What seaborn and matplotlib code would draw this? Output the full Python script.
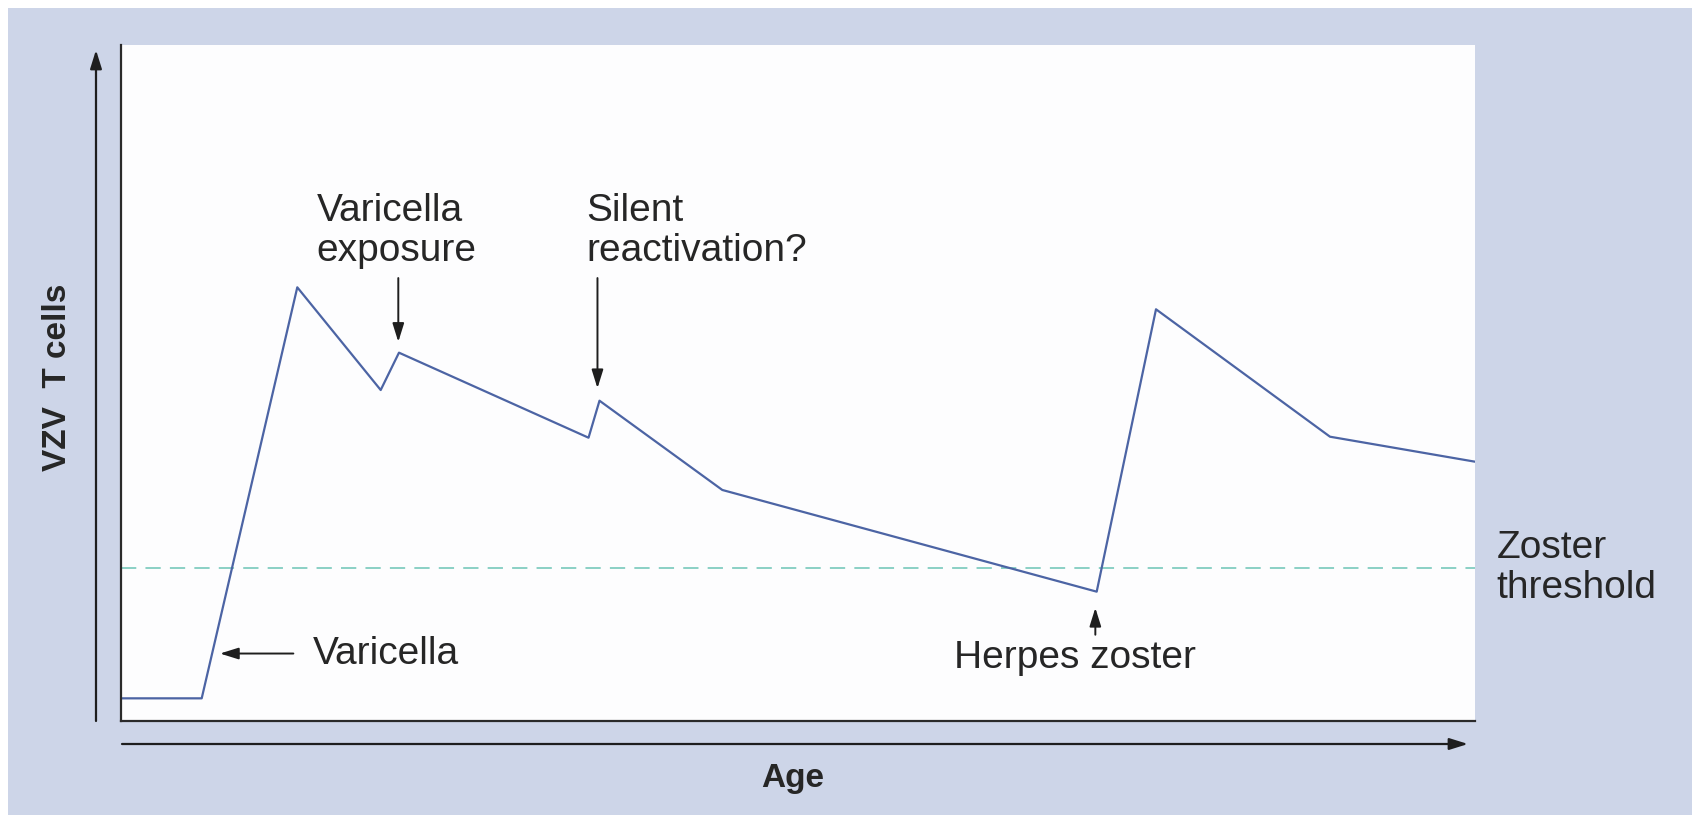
import matplotlib
matplotlib.use("Agg")
import matplotlib.pyplot as plt
from matplotlib.patches import Rectangle, FancyArrowPatch
import seaborn as sns
import pandas as pd

# ---- data (arbitrary 0-100 units) ----
age = [0.0, 5.96, 13.02, 19.18, 20.53, 34.53, 35.34, 44.41, 72.06, 76.44, 89.29, 100.0]
vzv_t_cells = [3.33, 3.33, 64.52, 49.23, 54.79, 42.13, 47.64, 34.35, 19.21, 61.25, 42.28, 38.56]
zoster_threshold = 22.69

x_label = "Age"
y_label = "VZV  T cells"
threshold_label = "Zoster\nthreshold"
event_labels = ["Varicella", "Varicella\nexposure", "Silent\nreactivation?", "Herpes zoster"]

# ---- style ----
sns.set_theme(style="white")
plt.rcParams["font.family"] = ["Liberation Sans", "DejaVu Sans"]

W, H = 1699, 819
fig = plt.figure(figsize=(W / 100, H / 100), dpi=100, facecolor="white")

BG = "#cdd5e8"
TXT = "#262626"
LINE = "#4c64a4"
DASH = "#6cc4b6"

# background panel (behind everything)
fig.add_artist(Rectangle((8 / W, 1 - 815 / H), (1692 - 8) / W, (815 - 8) / H,
                         transform=fig.transFigure, facecolor=BG, edgecolor="none",
                         zorder=-10))

# plot area: data y 0..100 maps to pixel rows 720.7..49
left, right, top, bottom = 121, 1475, 49, 720.7
top_ext = 45  # white area extends slightly above the 100 line
ylim_top = 100 + (top - top_ext) / (bottom - top) * 100
ax = fig.add_axes([left / W, 1 - bottom / H, (right - left) / W, (bottom - top_ext) / H])
ax.set_zorder(1)
ax.set_facecolor("#fdfdfe")
ax.set_xlim(0, 100)
ax.set_ylim(0, ylim_top)
for s in ["top", "right"]:
    ax.spines[s].set_visible(False)
for s in ["left", "bottom"]:
    ax.spines[s].set_color("#2a2a2a")
    ax.spines[s].set_linewidth(1.6)
ax.set_xticks([])
ax.set_yticks([])

df = pd.DataFrame({"age": age, "vzv": vzv_t_cells})
sns.lineplot(data=df, x="age", y="vzv", ax=ax, color=LINE, linewidth=1.6,
             estimator=None, sort=False)
ax.set_xlabel("")
ax.set_ylabel("")

ax.axhline(zoster_threshold, color=DASH, linewidth=1.1, dashes=(10, 6), zorder=1)

FS = 28
LS = 1.15
arrow_kw = dict(arrowstyle="-|>,head_length=0.8,head_width=0.25", color="#1e1e1e",
                lw=1.4, mutation_scale=14, shrinkA=0, shrinkB=0)

# Varicella (horizontal arrow pointing left)
ax.annotate("", xy=(age[1] + 1.35, 10.0), xytext=(12.73, 10.0), arrowprops=arrow_kw)
ax.text(14.2, 10.0, event_labels[0], fontsize=FS, color=TXT, ha="left", va="center")

# Varicella exposure
ax.annotate("", xy=(age[4] - 0.05, 56.4), xytext=(age[4] - 0.05, 65.9), arrowprops=arrow_kw)
ax.text(14.45, 78.6, event_labels[1], fontsize=FS, color=TXT, ha="left", va="top",
        linespacing=LS)

# Silent reactivation
ax.annotate("", xy=(age[6] - 0.15, 49.5), xytext=(age[6] - 0.15, 65.9), arrowprops=arrow_kw)
ax.text(34.34, 78.6, event_labels[2], fontsize=FS, color=TXT, ha="left", va="top",
        linespacing=LS)

# Herpes zoster (short arrow pointing up)
ax.annotate("", xy=(age[8] - 0.1, 16.8), xytext=(age[8] - 0.1, 12.8), arrowprops=arrow_kw)
ax.text(61.5, 9.3, event_labels[3], fontsize=FS, color=TXT, ha="left", va="center")

# threshold label outside on the right
ax.text(101.6, zoster_threshold, threshold_label, fontsize=FS, color=TXT, ha="left",
        va="center", linespacing=LS, clip_on=False)

# axis arrows (figure-level)
axis_arrow = dict(arrowstyle="-|>,head_length=0.8,head_width=0.25", color="#1e1e1e",
                  lw=1.6, mutation_scale=14, shrinkA=0, shrinkB=0)
fig.add_artist(FancyArrowPatch(
    (96 / W, 1 - 721 / H), (96 / W, 1 - 50 / H), transform=fig.transFigure, **axis_arrow))
fig.add_artist(FancyArrowPatch(
    (122 / W, 1 - 744 / H), (1468 / W, 1 - 744 / H), transform=fig.transFigure, **axis_arrow))

fig.text(58 / W, 1 - 377 / H, y_label, rotation=90, fontsize=24, fontweight="bold",
         color=TXT, ha="center", va="center")
fig.text(793 / W, 1 - 778 / H, x_label, fontsize=24, fontweight="bold",
         color=TXT, ha="center", va="center")

fig.savefig("out.png", dpi=100, facecolor="white")
